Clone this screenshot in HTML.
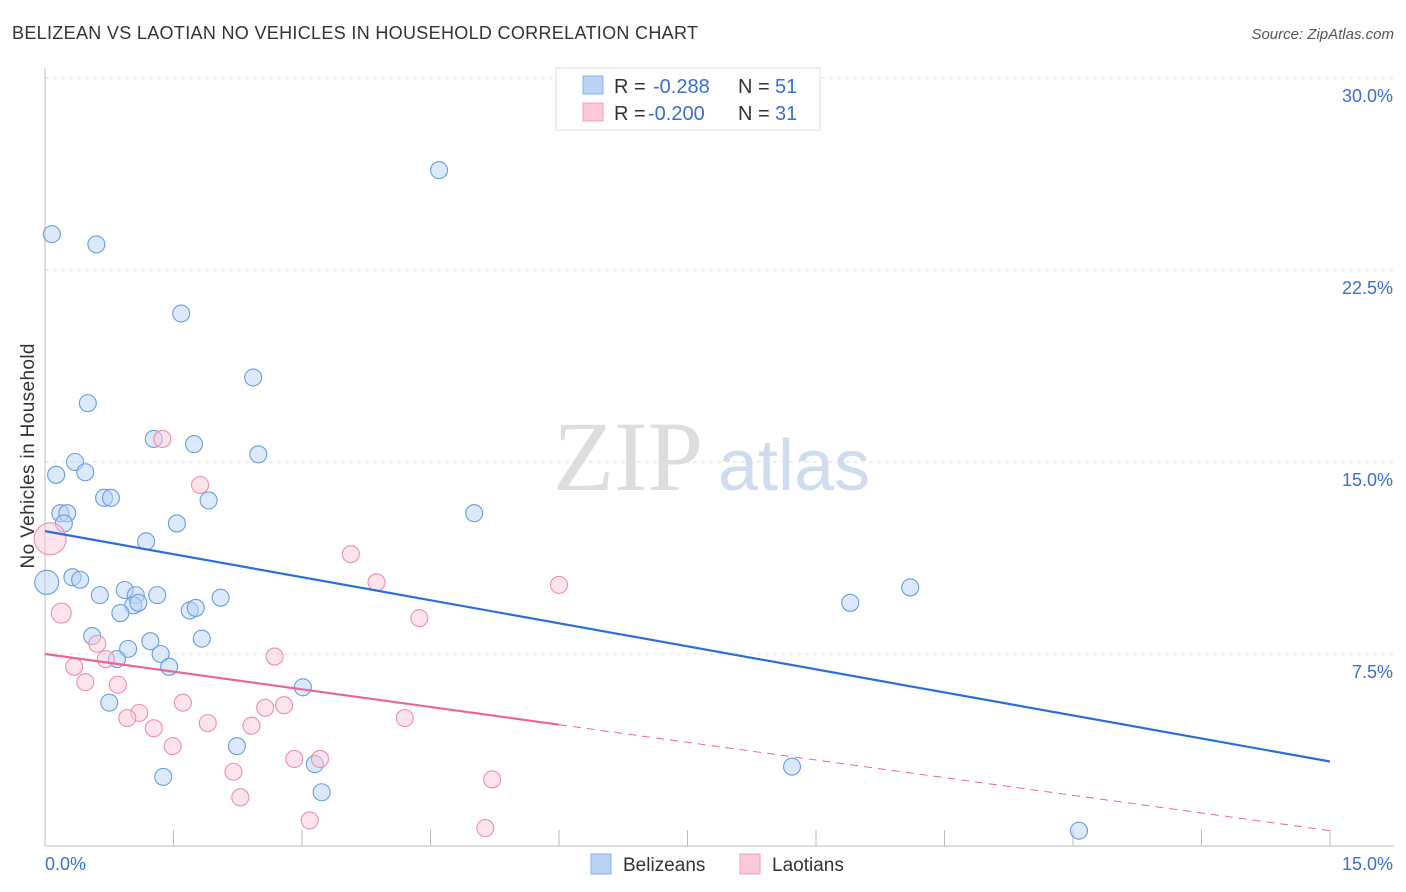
<!DOCTYPE html>
<html><head><meta charset="utf-8"><style>
body{margin:0;background:#fff;font-family:"Liberation Sans",sans-serif}
svg{display:block}
</style></head><body>
<svg id="c" width="1406" height="892">
<text x="12" y="39" font-size="18" fill="#333" textLength="686">BELIZEAN VS LAOTIAN NO VEHICLES IN HOUSEHOLD CORRELATION CHART</text>
<text x="1394" y="39" font-size="15" fill="#555" font-style="italic" text-anchor="end">Source: ZipAtlas.com</text>
<text x="553" y="490" font-size="100" fill="#ddd" font-family="Liberation Serif">ZIP</text>
<text x="718" y="490" font-size="72" fill="#cfdcf0">atlas</text>
<text transform="translate(34,456) rotate(-90)" font-size="19" fill="#333" text-anchor="middle" textLength="225">No Vehicles in Household</text>
<g id="grid"></g><g id="marks"></g>
<g>
<rect x="556" y="68" width="264" height="62" fill="#fff" stroke="#ddd"/>
<rect x="583" y="76" width="20" height="18" fill="#b9d3f5" stroke="#8ab0e6"/>
<rect x="583" y="103" width="20" height="18" fill="#fcc9d8" stroke="#f0a0b8"/>
<text x="614" y="93" font-size="20" fill="#333">R =</text>
<text x="653" y="93" font-size="20" fill="#3a6fd0">-0.288</text>
<text x="738" y="93" font-size="20" fill="#333">N =</text>
<text x="775" y="93" font-size="20" fill="#3a6fd0">51</text>
<text x="614" y="120" font-size="20" fill="#333">R =</text>
<text x="648" y="120" font-size="20" fill="#3a6fd0">-0.200</text>
<text x="738" y="120" font-size="20" fill="#333">N =</text>
<text x="775" y="120" font-size="20" fill="#3a6fd0">31</text>
</g>
<g>
<rect x="591" y="854" width="20" height="20" fill="#b9d3f5" stroke="#8ab0e6"/>
<text x="623" y="871" font-size="19" fill="#333">Belizeans</text>
<rect x="740" y="854" width="20" height="20" fill="#fcc9d8" stroke="#f0a0b8"/>
<text x="772" y="871" font-size="19" fill="#333">Laotians</text>
</g>
</svg>
<script>
const yTicks=[7.5,15,22.5,30];
const yTickLabels=["7.5%","15.0%","22.5%","30.0%"];
const belX=[0.08,0.6,4.6,1.59,2.43,0.5,1.27,1.74,2.49,0.35,0.13,0.47,0.69,0.77,1.91,0.18,0.26,0.22,1.54,5.01,1.18,0.02,0.32,0.41,0.64,0.93,1.06,1.31,2.05,1.03,1.09,0.88,1.69,1.76,9.4,10.1,0.55,1.23,1.83,0.97,1.35,0.84,1.45,3.01,0.75,2.24,3.15,1.38,3.23,8.72,12.07];
const belY=[23.9,23.5,26.4,20.8,18.3,17.3,15.9,15.7,15.3,15.0,14.5,14.6,13.6,13.6,13.5,13.0,13.0,12.6,12.6,13.0,11.9,10.3,10.5,10.4,9.8,10.0,9.8,9.8,9.7,9.4,9.5,9.1,9.2,9.3,9.5,10.1,8.2,8.0,8.1,7.7,7.5,7.3,7.0,6.2,5.6,3.9,3.2,2.7,2.1,3.1,0.6];
const laoX=[0.06,0.19,1.37,1.81,3.57,3.87,6.0,4.37,0.61,0.71,2.68,0.34,0.47,0.85,1.61,2.79,2.57,1.1,0.96,1.9,2.41,4.2,1.27,1.49,2.91,3.21,2.2,5.22,2.28,3.09,5.14];
const laoY=[12.0,9.1,15.9,14.1,11.4,10.3,10.2,8.9,7.9,7.3,7.4,7.0,6.4,6.3,5.6,5.5,5.4,5.2,5.0,4.8,4.7,5.0,4.6,3.9,3.4,3.4,2.9,2.6,1.9,1.0,0.7];
const belTrend=[12.3,3.3];
const laoTrend=[7.5,0.6];
const laoSolidEnd=6.0;
const X=v=>45+v*(1285/15), Y=v=>846-v*25.6;
const NS="http://www.w3.org/2000/svg";
function mk(t,a,p){const e=document.createElementNS(NS,t);for(const k in a)e.setAttribute(k,a[k]);p.appendChild(e);return e;}
const g=document.getElementById('grid'),m=document.getElementById('marks');
yTicks.forEach((t,i)=>{const l=mk('line',{x1:45,x2:1394,y1:Y(t),y2:Y(t),stroke:'#ddd','stroke-dasharray':'4,4'},g);


const tx=mk('text',{x:1393,y:Y(t)+24,'font-size':18,fill:'#3a6fd0','text-anchor':'end'},g);tx.textContent=yTickLabels[i];

});
const ax=mk('line',{x1:45,x2:45,y1:68,y2:846,stroke:'#bbb'},g);


const bx=mk('line',{x1:45,x2:1394,y1:846,y2:846,stroke:'#bbb'},g);


for(let i=0;i<=10;i++){const t=mk('line',{x1:X(i*1.5),x2:X(i*1.5),y1:830,y2:846,stroke:'#bbb'},g);

}
[["0.0%",45,'start'],["15.0%",1393,'end']].forEach(d=>{const t=mk('text',{x:d[1],y:870,'font-size':18,fill:'#3a6fd0','text-anchor':d[2]},g);t.textContent=d[0];

});
function dot(x,y,f,s,r){const c=mk('circle',{cx:X(x),cy:Y(y),r:r,fill:f,'fill-opacity':0.5,stroke:s,'stroke-width':1.1},m);return c;}
belX.forEach((x,i)=>{const c=dot(x,belY[i],'#b9d3f5','#6a9ce0',i==21?12:8.5);

});
laoX.forEach((x,i)=>{const c=dot(x,laoY[i],'#fcc9d8','#ec8fae',i==0?16:(i==1?10:8.5));

});
const bl=mk('line',{x1:X(0),y1:Y(belTrend[0]),x2:X(15),y2:Y(belTrend[1]),stroke:'#2a6fd6','stroke-width':2.2},m);


const ly=v=>laoTrend[0]+(laoTrend[1]-laoTrend[0])*v/15;
const l1=mk('line',{x1:X(0),y1:Y(laoTrend[0]),x2:X(laoSolidEnd),y2:Y(ly(laoSolidEnd)),stroke:'#e8679a','stroke-width':2.2},m);


const l2=mk('line',{x1:X(laoSolidEnd),y1:Y(ly(laoSolidEnd)),x2:X(15),y2:Y(laoTrend[1]),stroke:'#e8679a','stroke-width':1,'stroke-dasharray':'8,6'},m);


</script>
</body></html>
